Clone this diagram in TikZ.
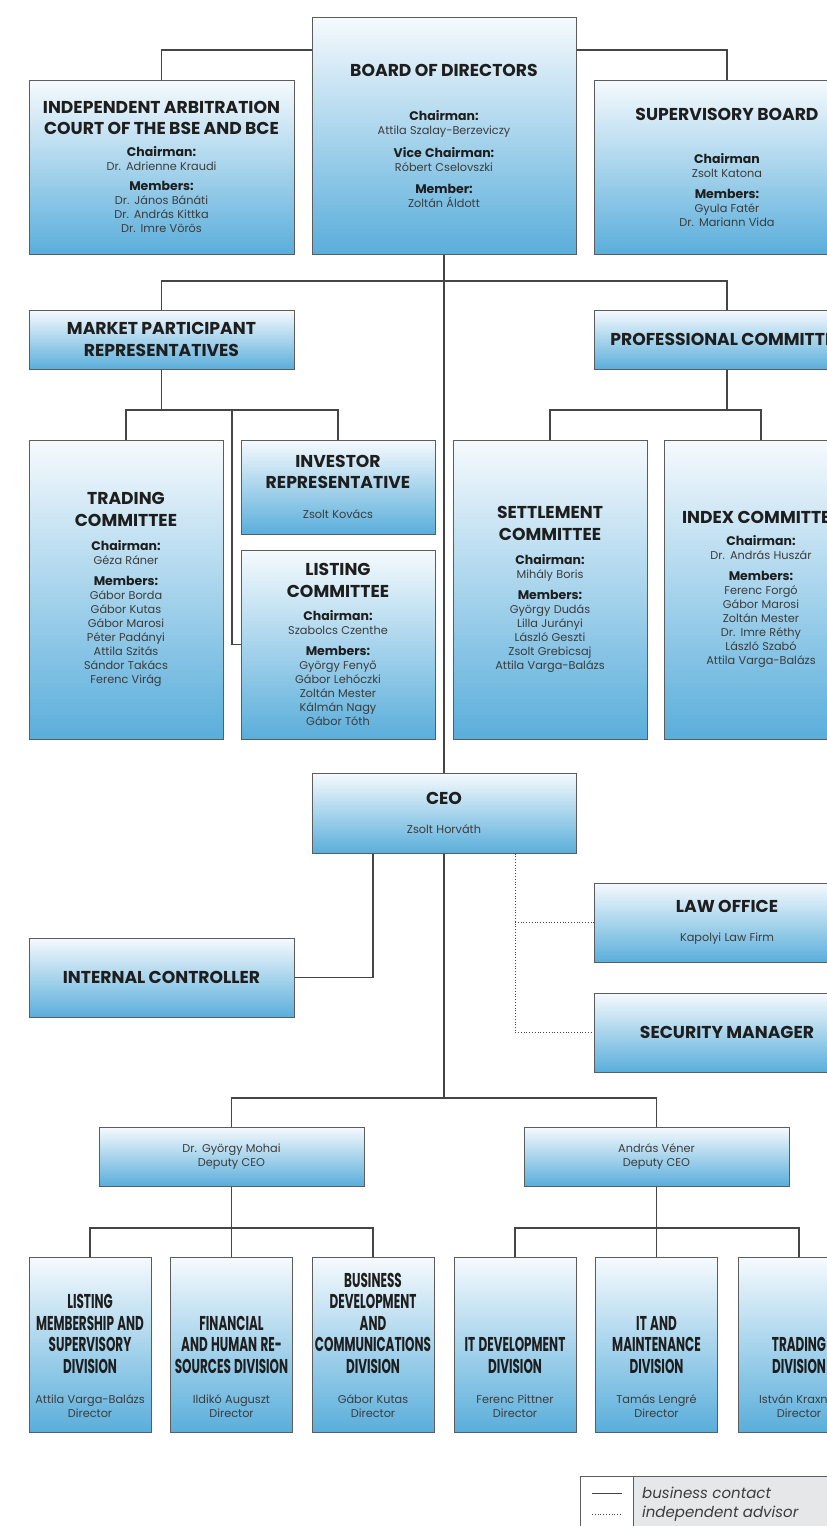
\documentclass[tikz,border=0pt]{standalone}
\usepackage{fontspec}
\setmainfont{Poppins}
\newfontfamily\narrowfont[FakeStretch=0.6]{Poppins}
\usetikzlibrary{positioning}

\definecolor{boxtop}{HTML}{F6FAFD}
\definecolor{boxbot}{HTML}{5AAEDB}
\definecolor{boxedge}{HTML}{5C5C5C}
\definecolor{linkline}{HTML}{454545}
\definecolor{headtext}{HTML}{1E1E1E}
\definecolor{nametext}{HTML}{3C3C3C}
\definecolor{legendfill}{HTML}{E6E7E8}

\newcommand\titlef{\fontsize{17.2}{21.5}\selectfont\bfseries\color{headtext}}
\newcommand\rolef{\fontsize{12.5}{14}\selectfont\bfseries\color{headtext}}
\newcommand\namef{\fontsize{11.3}{14}\selectfont\mdseries\color{nametext}}
\newcommand\narrowtitlef{\narrowfont\fontsize{20}{21.5}\selectfont\bfseries\color{headtext}}

\tikzset{
  orgbox/.style={draw=boxedge, line width=1pt, top color=boxtop, bottom color=boxbot,
    inner sep=0pt, align=center},
  divlabel/.style={inner sep=0pt, align=center, text width=150pt},
  link/.style={draw=linkline, line width=1.1pt},
  advisor/.style={draw=linkline, line width=0.8pt, dotted},
}

\begin{document}
\begin{tikzpicture}[x=1pt,y=-1pt]
  \useasboundingbox (0,0) rectangle (827,1526);
  \clip (0,0) rectangle (827,1526);

  % top level
  \node[orgbox, minimum width=265pt, minimum height=174pt, text width=262pt] (iac) at (161.5,167) {%
    {\titlef INDEPENDENT ARBITRATION\\COURT OF THE BSE AND BCE\par}\vspace{8pt}
    {\rolef Chairman:\\\namef Dr. Adrienne Kraudi\par}\vspace{6pt}
    {\rolef Members:\\\namef Dr. János Bánáti\\Dr. András Kittka\\Dr. Imre Vörös\par}};
  \node[orgbox, minimum width=264pt, minimum height=237pt, text width=255pt] (board) at (444,135.5) {%
    {\titlef BOARD OF DIRECTORS\par}\vspace{30pt}
    {\rolef Chairman:\\\namef Attila Szalay-Berzeviczy\par}\vspace{9pt}
    {\rolef Vice Chairman:\\\namef Róbert Cselovszki\par}\vspace{8pt}
    {\rolef Member:\\\namef Zoltán Áldott\par}};
  \node[orgbox, minimum width=266pt, minimum height=174pt, text width=255pt] (sup) at (727,167) {%
    {\titlef SUPERVISORY BOARD\par}\vspace{29pt}
    {\rolef Chairman\\\namef Zsolt Katona\par}\vspace{7pt}
    {\rolef Members:\\\namef Gyula Fatér\\Dr. Mariann Vida\par}};

  % committees
  \node[orgbox, minimum width=265pt, minimum height=59pt, text width=255pt] (mpr) at (161.5,339.5) {%
    {\titlef MARKET PARTICIPANT\\REPRESENTATIVES\par}};
  \node[orgbox, minimum width=266pt, minimum height=59pt, text width=262pt] (prof) at (727,339.5) {%
    {\titlef PROFESSIONAL COMMITTEE\par}};
  \node[orgbox, minimum width=194pt, minimum height=299pt, text width=192pt] (trading) at (126,589.5) {%
    {\titlef TRADING\\COMMITTEE\par}\vspace{10pt}
    {\rolef Chairman:\\\namef Géza Ráner\par}\vspace{7pt}
    {\rolef Members:\\\namef Gábor Borda\\Gábor Kutas\\Gábor Marosi\\Péter Padányi\\Attila Szitás\\Sándor Takács\\Ferenc Virág\par}};
  \node[orgbox, minimum width=194pt, minimum height=94pt, text width=192pt] (investor) at (338,487) {%
    {\titlef INVESTOR\\REPRESENTATIVE\par}\vspace{16pt}
    {\namef Zsolt Kovács\par}};
  \node[orgbox, minimum width=194pt, minimum height=189pt, text width=192pt] (listing) at (338,644.5) {%
    {\titlef LISTING\\COMMITTEE\par}\vspace{9pt}
    {\rolef Chairman:\\\namef Szabolcs Czenthe\par}\vspace{7pt}
    {\rolef Members:\\\namef György Fenyő\\Gábor Lehóczki\\Zoltán Mester\\Kálmán Nagy\\Gábor Tóth\par}};
  \node[orgbox, minimum width=194pt, minimum height=299pt, text width=192pt] (settle) at (550,589.5) {%
    {\titlef SETTLEMENT\\COMMITTEE\par}\vspace{10pt}
    {\rolef Chairman:\\\namef Mihály Boris\par}\vspace{7pt}
    {\rolef Members:\\\namef György Dudás\\Lilla Jurányi\\László Geszti\\Zsolt Grebicsaj\\Attila Varga-Balázs\par}};
  \node[orgbox, minimum width=194pt, minimum height=299pt, text width=192pt] (index) at (761,589.5) {%
    {\titlef INDEX COMMITTEE\par}\vspace{8pt}
    {\rolef Chairman:\\\namef Dr. András Huszár\par}\vspace{7pt}
    {\rolef Members:\\\namef Ferenc Forgó\\Gábor Marosi\\Zoltán Mester\\Dr. Imre Réthy\\László Szabó\\Attila Varga-Balázs\par}};

  % management
  \node[orgbox, minimum width=264pt, minimum height=80pt, text width=255pt] (ceo) at (444,813) {%
    {\titlef CEO\par}\vspace{15pt}
    {\namef Zsolt Horváth\par}};
  \node[orgbox, minimum width=265pt, minimum height=79pt, text width=255pt] (ic) at (161.5,977.5) {%
    {\titlef INTERNAL CONTROLLER\par}};
  \node[orgbox, minimum width=266pt, minimum height=79pt, text width=255pt] (law) at (727,922.5) {%
    {\titlef LAW OFFICE\par}\vspace{15pt}
    {\namef Kapolyi Law Firm\par}};
  \node[orgbox, minimum width=266pt, minimum height=79pt, text width=255pt] (security) at (727,1032.5) {%
    {\titlef SECURITY MANAGER\par}};
  \node[orgbox, minimum width=265pt, minimum height=59pt, text width=255pt] (mohai) at (231.5,1156.5) {%
    {\namef Dr. György Mohai\\Deputy CEO\par}};
  \node[orgbox, minimum width=265pt, minimum height=59pt, text width=255pt] (vener) at (656.5,1156.5) {%
    {\namef András Véner\\Deputy CEO\par}};

  % divisions
  \foreach \name/\xpos in {lms/90, fhr/231.5, bdc/373, itd/515, itm/656.5, trd/799}
    \node[orgbox, minimum width=122pt, minimum height=175pt] (\name) at (\xpos,1344.5) {};
  \node[divlabel, above=15pt of lms.south] (lmstext) {%
    {\narrowtitlef LISTING\\MEMBERSHIP AND\\SUPERVISORY\\DIVISION\par}\vspace{16pt}
    {\namef Attila Varga-Balázs\\Director\par}};
  \node[divlabel, above=15pt of fhr.south] (fhrtext) {%
    {\narrowtitlef FINANCIAL\\AND HUMAN RE-\\SOURCES DIVISION\par}\vspace{16pt}
    {\namef Ildikó Auguszt\\Director\par}};
  \node[divlabel, above=15pt of bdc.south] (bdctext) {%
    {\narrowtitlef BUSINESS\\DEVELOPMENT\\AND\\COMMUNICATIONS\\DIVISION\par}\vspace{16pt}
    {\namef Gábor Kutas\\Director\par}};
  \node[divlabel, above=15pt of itd.south] (itdtext) {%
    {\narrowtitlef IT DEVELOPMENT\\DIVISION\par}\vspace{16pt}
    {\namef Ferenc Pittner\\Director\par}};
  \node[divlabel, above=15pt of itm.south] (itmtext) {%
    {\narrowtitlef IT AND\\MAINTENANCE\\DIVISION\par}\vspace{16pt}
    {\namef Tamás Lengré\\Director\par}};
  \node[divlabel, above=15pt of trd.south] (trdtext) {%
    {\narrowtitlef TRADING\\DIVISION\par}\vspace{16pt}
    {\namef István Kraxner\\Director\par}};

  % connectors
  \coordinate (topbus) at (0,50);
  \coordinate (midbus) at (0,281);
  \coordinate (mprbus) at (0,410);
  \coordinate (lstbranch) at (232,410);
  \coordinate (icjoin) at (373,0);
  \coordinate (advjoin) at (515,0);
  \coordinate (deputybus) at (0,1098);
  \coordinate (divbus) at (0,1228);

  \draw[link] (iac.north) |- (board.west |- topbus);
  \draw[link] (sup.north) |- (board.east |- topbus);
  \draw[link] (board.south) -- (ceo.north);
  \draw[link] (mpr.north) |- (board.south |- midbus) -| (prof.north);
  \draw[link] (mpr.south) -- (mpr.south |- mprbus);
  \draw[link] (trading.north) |- (investor.north |- mprbus) -- (investor.north);
  \draw[link] (lstbranch) |- (listing.west);
  \draw[link] (prof.south) -- (prof.south |- mprbus);
  \draw[link] (settle.north) |- (index.north |- mprbus) -- (index.north);

  \draw[link] (ceo.south -| icjoin) |- (ic.east);
  \draw[advisor] (ceo.south -| advjoin) |- (security.west);
  \draw[advisor] (law.west -| advjoin) -- (law.west);
  \draw[link] (ceo.south) -- (ceo.south |- deputybus);
  \draw[link] (mohai.north) |- (vener.north |- deputybus) -- (vener.north);

  \draw[link] (mohai.south) -- (fhr.north);
  \draw[link] (lms.north) |- (bdc.north |- divbus) -- (bdc.north);
  \draw[link] (vener.south) -- (itm.north);
  \draw[link] (itd.north) |- (trd.north |- divbus) -- (trd.north);

  % legend
  \draw[boxedge, line width=0.8pt, fill=white] (580,1476) rectangle (633,1540);
  \draw[boxedge, line width=0.8pt, fill=legendfill] (633,1476) rectangle (850,1540);
  \draw[link, line width=0.8pt] (592,1493) -- (622,1493);
  \draw[advisor] (592,1514) -- (622,1514);
  \node[anchor=west, inner sep=0pt, font=\fontsize{15}{21}\selectfont\itshape, text=nametext] (legendsolid) at (642,1493) {business contact};
  \node[anchor=west, inner sep=0pt, font=\fontsize{15}{21}\selectfont\itshape, text=nametext] (legenddotted) at (642,1514) {independent advisor};
\end{tikzpicture}
\end{document}
